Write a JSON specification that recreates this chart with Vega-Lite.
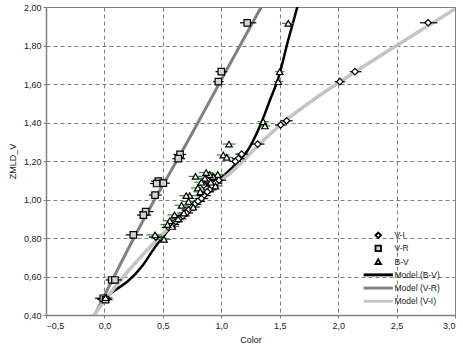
{
  "$schema": "https://vega.github.io/schema/vega-lite/v6.json",
  "width": 409,
  "height": 308,
  "autosize": {"type": "none"},
  "padding": {"left": 46, "top": 7, "right": 8, "bottom": 32},
  "background": "white",
  "config": {
    "font": "Liberation Sans",
    "locale": {"number": {"decimal": ",", "thousands": ".", "grouping": [3], "currency": ["", "€"]}},
    "view": {"stroke": "#808080", "strokeWidth": 1},
    "axis": {
      "labelFont": "Liberation Sans", "labelFontSize": 9, "labelColor": "#222",
      "titleFont": "Liberation Sans", "titleFontSize": 9, "titleFontWeight": "normal", "titleColor": "#222",
      "gridColor": "#808080", "gridDash": [4, 3], "gridWidth": 1, "gridOpacity": 1,
      "domainColor": "#808080", "domainWidth": 1.5, "tickColor": "#808080", "tickSize": 3
    },
    "legend": {"orient": "none", "legendX": 328, "legendY": 224, "title": null, "labelFont": "Liberation Sans", "labelFontSize": 8.5, "labelColor": "#222", "labelOffset": 12, "rowPadding": -0.8, "padding": 0, "symbolStrokeWidth": 1.8, "symbolSize": 30, "gridAlign": "all"}
  },
  "datasets": {
    "pts": [
      {"series": "V-I", "c": 2.77, "v": 1.918, "lo": 2.70, "hi": 2.85},
      {"series": "V-I", "c": 2.144, "v": 1.664, "lo": 2.10, "hi": 2.20},
      {"series": "V-I", "c": 2.015, "v": 1.612, "lo": 1.97, "hi": 2.06},
      {"series": "V-I", "c": 1.559, "v": 1.409, "lo": 1.51, "hi": 1.61},
      {"series": "V-I", "c": 1.508, "v": 1.387, "lo": 1.46, "hi": 1.56},
      {"series": "V-I", "c": 1.311, "v": 1.288, "lo": 1.25, "hi": 1.37},
      {"series": "V-I", "c": 1.174, "v": 1.236, "lo": 1.12, "hi": 1.23},
      {"series": "V-I", "c": 1.146, "v": 1.212, "lo": 1.09, "hi": 1.20},
      {"series": "V-I", "c": 1.12, "v": 1.198, "lo": 1.07, "hi": 1.17},
      {"series": "V-I", "c": 0.98, "v": 1.10, "lo": 0.92, "hi": 1.04},
      {"series": "V-I", "c": 0.95, "v": 1.085, "lo": 0.89, "hi": 1.01},
      {"series": "V-I", "c": 0.92, "v": 1.07, "lo": 0.86, "hi": 0.98},
      {"series": "V-I", "c": 0.90, "v": 1.05, "lo": 0.84, "hi": 0.96},
      {"series": "V-I", "c": 0.88, "v": 1.04, "lo": 0.82, "hi": 0.94},
      {"series": "V-I", "c": 0.85, "v": 1.02, "lo": 0.79, "hi": 0.91},
      {"series": "V-I", "c": 0.83, "v": 1.005, "lo": 0.77, "hi": 0.89},
      {"series": "V-I", "c": 0.80, "v": 0.99, "lo": 0.74, "hi": 0.86},
      {"series": "V-I", "c": 0.77, "v": 0.975, "lo": 0.71, "hi": 0.83},
      {"series": "V-I", "c": 0.75, "v": 0.96, "lo": 0.69, "hi": 0.81},
      {"series": "V-I", "c": 0.72, "v": 0.945, "lo": 0.66, "hi": 0.78},
      {"series": "V-I", "c": 0.70, "v": 0.93, "lo": 0.64, "hi": 0.76},
      {"series": "V-I", "c": 0.67, "v": 0.915, "lo": 0.61, "hi": 0.73},
      {"series": "V-I", "c": 0.64, "v": 0.90, "lo": 0.58, "hi": 0.70},
      {"series": "V-I", "c": 0.61, "v": 0.885, "lo": 0.55, "hi": 0.67},
      {"series": "V-I", "c": 0.58, "v": 0.87, "lo": 0.52, "hi": 0.64},
      {"series": "V-I", "c": 0.55, "v": 0.855, "lo": 0.49, "hi": 0.61},
      {"series": "V-I", "c": 0.88, "v": 1.10, "lo": 0.82, "hi": 0.94},
      {"series": "V-I", "c": 0.85, "v": 1.075, "lo": 0.79, "hi": 0.91},
      {"series": "V-I", "c": 0.93, "v": 1.115, "lo": 0.87, "hi": 0.99},
      {"series": "V-I", "c": 0.44, "v": 0.805, "lo": 0.38, "hi": 0.50},
      {"series": "V-I", "c": 0.0, "v": 0.485, "lo": -0.06, "hi": 0.06},
      {"series": "V-R", "c": 1.222, "v": 1.918, "lo": 1.16, "hi": 1.30},
      {"series": "V-R", "c": 1.00, "v": 1.664, "lo": 0.95, "hi": 1.05},
      {"series": "V-R", "c": 0.975, "v": 1.612, "lo": 0.93, "hi": 1.02},
      {"series": "V-R", "c": 0.647, "v": 1.234, "lo": 0.59, "hi": 0.70},
      {"series": "V-R", "c": 0.632, "v": 1.212, "lo": 0.58, "hi": 0.69},
      {"series": "V-R", "c": 0.461, "v": 1.095, "lo": 0.40, "hi": 0.52},
      {"series": "V-R", "c": 0.447, "v": 1.083, "lo": 0.39, "hi": 0.50},
      {"series": "V-R", "c": 0.504, "v": 1.085, "lo": 0.45, "hi": 0.56},
      {"series": "V-R", "c": 0.433, "v": 1.023, "lo": 0.38, "hi": 0.49},
      {"series": "V-R", "c": 0.353, "v": 0.937, "lo": 0.30, "hi": 0.42},
      {"series": "V-R", "c": 0.333, "v": 0.919, "lo": 0.28, "hi": 0.40},
      {"series": "V-R", "c": 0.247, "v": 0.816, "lo": 0.18, "hi": 0.33},
      {"series": "V-R", "c": 0.062, "v": 0.582, "lo": 0.01, "hi": 0.12},
      {"series": "V-R", "c": 0.09, "v": 0.582, "lo": 0.04, "hi": 0.15},
      {"series": "V-R", "c": -0.01, "v": 0.487, "lo": -0.08, "hi": 0.05},
      {"series": "V-R", "c": 0.01, "v": 0.48, "lo": -0.06, "hi": 0.07},
      {"series": "B-V", "c": 1.573, "v": 1.915, "lo": 1.52, "hi": 1.62},
      {"series": "B-V", "c": 1.50, "v": 1.664, "lo": 1.46, "hi": 1.54},
      {"series": "B-V", "c": 1.488, "v": 1.612, "lo": 1.45, "hi": 1.53},
      {"series": "B-V", "c": 1.36, "v": 1.404, "lo": 1.31, "hi": 1.41},
      {"series": "B-V", "c": 1.374, "v": 1.382, "lo": 1.33, "hi": 1.42},
      {"series": "B-V", "c": 1.066, "v": 1.288, "lo": 1.01, "hi": 1.12},
      {"series": "B-V", "c": 1.017, "v": 1.231, "lo": 0.96, "hi": 1.07},
      {"series": "B-V", "c": 1.046, "v": 1.219, "lo": 0.99, "hi": 1.10},
      {"series": "B-V", "c": 0.433, "v": 0.816, "lo": 0.36, "hi": 0.49},
      {"series": "B-V", "c": 0.51, "v": 0.793, "lo": 0.45, "hi": 0.57},
      {"series": "B-V", "c": 0.97, "v": 1.13, "lo": 0.91, "hi": 1.03},
      {"series": "B-V", "c": 0.93, "v": 1.12, "lo": 0.87, "hi": 0.99},
      {"series": "B-V", "c": 0.90, "v": 1.13, "lo": 0.84, "hi": 0.96},
      {"series": "B-V", "c": 0.87, "v": 1.14, "lo": 0.81, "hi": 0.93},
      {"series": "B-V", "c": 0.86, "v": 1.11, "lo": 0.80, "hi": 0.92},
      {"series": "B-V", "c": 0.83, "v": 1.09, "lo": 0.77, "hi": 0.89},
      {"series": "B-V", "c": 0.80, "v": 1.06, "lo": 0.74, "hi": 0.86},
      {"series": "B-V", "c": 0.78, "v": 1.12, "lo": 0.72, "hi": 0.84},
      {"series": "B-V", "c": 0.76, "v": 0.96, "lo": 0.70, "hi": 0.82},
      {"series": "B-V", "c": 0.73, "v": 1.02, "lo": 0.67, "hi": 0.79},
      {"series": "B-V", "c": 0.70, "v": 1.02, "lo": 0.64, "hi": 0.76},
      {"series": "B-V", "c": 0.68, "v": 0.93, "lo": 0.62, "hi": 0.74},
      {"series": "B-V", "c": 0.66, "v": 0.97, "lo": 0.60, "hi": 0.72},
      {"series": "B-V", "c": 0.63, "v": 0.90, "lo": 0.57, "hi": 0.69},
      {"series": "B-V", "c": 0.60, "v": 0.92, "lo": 0.54, "hi": 0.66},
      {"series": "B-V", "c": 0.58, "v": 0.86, "lo": 0.52, "hi": 0.64},
      {"series": "B-V", "c": 0.56, "v": 0.89, "lo": 0.50, "hi": 0.62},
      {"series": "B-V", "c": 0.54, "v": 0.87, "lo": 0.48, "hi": 0.60},
      {"series": "B-V", "c": 0.91, "v": 1.09, "lo": 0.85, "hi": 0.97},
      {"series": "B-V", "c": 0.95, "v": 1.07, "lo": 0.89, "hi": 1.01},
      {"series": "B-V", "c": 0.82, "v": 1.04, "lo": 0.76, "hi": 0.88},
      {"series": "B-V", "c": 0.72, "v": 0.99, "lo": 0.66, "hi": 0.78},
      {"series": "B-V", "c": 0.01, "v": 0.49, "lo": -0.05, "hi": 0.07}
    ],
    "models": [
      {"series": "Model (V-R)", "c": -0.1, "v": 0.38},
      {"series": "Model (V-R)", "c": 0.33, "v": 0.89},
      {"series": "Model (V-R)", "c": 0.72, "v": 1.31},
      {"series": "Model (V-R)", "c": 1.07, "v": 1.70},
      {"series": "Model (V-R)", "c": 1.36, "v": 2.02},
      {"series": "Model (B-V)", "c": 0.0, "v": 0.49},
      {"series": "Model (B-V)", "c": 0.12, "v": 0.54},
      {"series": "Model (B-V)", "c": 0.2, "v": 0.575},
      {"series": "Model (B-V)", "c": 0.33, "v": 0.66},
      {"series": "Model (B-V)", "c": 0.43, "v": 0.75},
      {"series": "Model (B-V)", "c": 0.52, "v": 0.82},
      {"series": "Model (B-V)", "c": 0.6, "v": 0.88},
      {"series": "Model (B-V)", "c": 0.75, "v": 0.97},
      {"series": "Model (B-V)", "c": 0.93, "v": 1.075},
      {"series": "Model (B-V)", "c": 1.10, "v": 1.17},
      {"series": "Model (B-V)", "c": 1.245, "v": 1.274},
      {"series": "Model (B-V)", "c": 1.346, "v": 1.404},
      {"series": "Model (B-V)", "c": 1.417, "v": 1.517},
      {"series": "Model (B-V)", "c": 1.488, "v": 1.63},
      {"series": "Model (B-V)", "c": 1.573, "v": 1.829},
      {"series": "Model (B-V)", "c": 1.66, "v": 2.02},
      {"series": "Model (V-I)", "c": -0.1, "v": 0.39},
      {"series": "Model (V-I)", "c": 0.15, "v": 0.59},
      {"series": "Model (V-I)", "c": 0.49, "v": 0.816},
      {"series": "Model (V-I)", "c": 0.9, "v": 1.05},
      {"series": "Model (V-I)", "c": 1.1, "v": 1.15},
      {"series": "Model (V-I)", "c": 1.33, "v": 1.29},
      {"series": "Model (V-I)", "c": 1.55, "v": 1.41},
      {"series": "Model (V-I)", "c": 1.76, "v": 1.506},
      {"series": "Model (V-I)", "c": 2.0, "v": 1.605},
      {"series": "Model (V-I)", "c": 2.5, "v": 1.80},
      {"series": "Model (V-I)", "c": 3.0, "v": 1.99}
    ]
  },
  "encoding": {
    "x": {"field": "c", "type": "quantitative",
      "scale": {"domain": [-0.5, 3.0], "nice": false, "zero": false},
      "axis": {"title": "Color", "values": [-0.5, 0, 0.5, 1, 1.5, 2, 2.5, 3], "format": ".1f", "labelPadding": 3, "titlePadding": 5}},
    "y": {"field": "v", "type": "quantitative",
      "scale": {"domain": [0.4, 2.0], "nice": false, "zero": false},
      "axis": {"title": "ZMLD_V", "values": [0.4, 0.6, 0.8, 1.0, 1.2, 1.4, 1.6, 1.8, 2.0], "format": ".2f", "labelPadding": 2, "titlePadding": 6}}
  },
  "layer": [
    {
      "data": {"name": "models"},
      "mark": {"type": "line", "clip": true, "interpolate": "monotone"},
      "encoding": {
        "detail": {"field": "series", "type": "nominal"},
        "stroke": {"condition": [
          {"test": "datum.series === 'Model (V-R)'", "value": "#808080"},
          {"test": "datum.series === 'Model (V-I)'", "value": "#c4c4c4"}
        ], "value": "black"},
        "strokeWidth": {"condition": [
          {"test": "datum.series === 'Model (V-R)'", "value": 3},
          {"test": "datum.series === 'Model (V-I)'", "value": 3.5}
        ], "value": 2.5},
        "order": {"field": "c", "type": "quantitative"}
      }
    },
    {
      "data": {"name": "pts"},
      "mark": {"type": "rule", "strokeWidth": 1.2},
      "encoding": {
        "x": {"field": "lo", "type": "quantitative"},
        "x2": {"field": "hi"},
        "stroke": {"condition": {"test": "datum.series === 'B-V'", "value": "#2e8b2e"}, "value": "black"}
      }
    },
    {
      "data": {"name": "pts"},
      "mark": {"type": "point", "filled": true, "size": 42, "opacity": 1, "strokeWidth": 1.2},
      "encoding": {
        "shape": {"field": "series", "type": "nominal",
          "scale": {"domain": ["V-I", "V-R", "B-V", "Model (B-V)", "Model (V-R)", "Model (V-I)"], "range": ["diamond", "square", "triangle-up", "M-5,-0.2H5V0.2H-5Z", "M-5,-0.2H5V0.2H-5Z", "M-5,-0.2H5V0.2H-5Z"]}},
        "fill": {"field": "series", "type": "nominal",
          "scale": {"domain": ["V-I", "V-R", "B-V", "Model (B-V)", "Model (V-R)", "Model (V-I)"], "range": ["white", "#d4d4d4", "white", "black", "#808080", "#c4c4c4"]}},
        "stroke": {"field": "series", "type": "nominal",
          "scale": {"domain": ["V-I", "V-R", "B-V", "Model (B-V)", "Model (V-R)", "Model (V-I)"], "range": ["black", "black", "black", "black", "#808080", "#c4c4c4"]}}
      }
    }
  ]
}
